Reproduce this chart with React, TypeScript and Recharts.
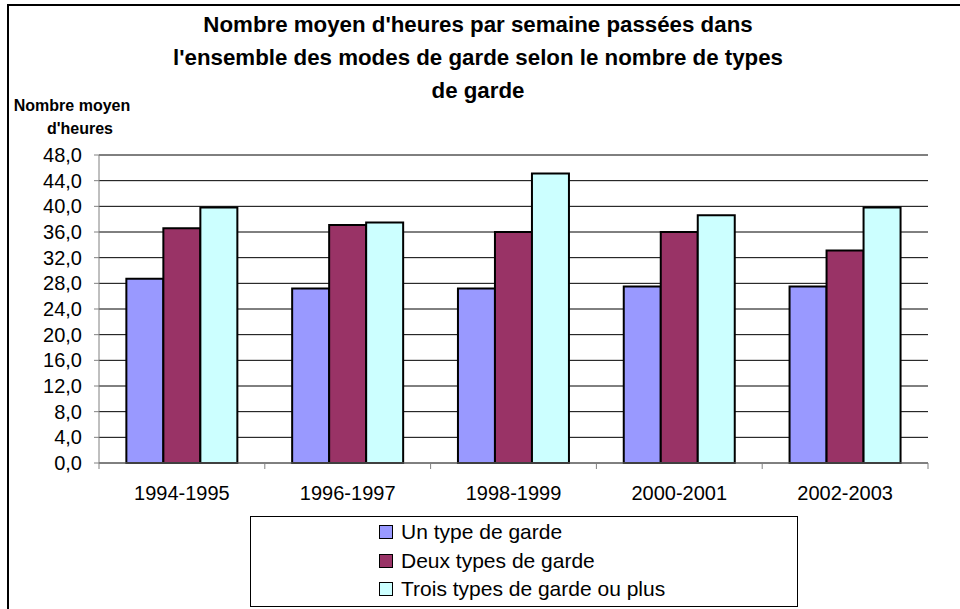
import { BarChart, Bar, XAxis, YAxis, CartesianGrid } from 'recharts';

const periods = ['1994-1995', '1996-1997', '1998-1999', '2000-2001', '2002-2003'];
const unType = [28.7, 27.2, 27.2, 27.5, 27.5];
const deuxTypes = [36.6, 37.1, 36.0, 36.0, 33.1];
const troisTypes = [39.8, 37.5, 45.1, 38.6, 39.8];
const yTicks = [0, 4, 8, 12, 16, 20, 24, 28, 32, 36, 40, 44, 48];

const series = [
  { key: 'un', name: 'Un type de garde', color: '#9999FF' },
  { key: 'deux', name: 'Deux types de garde', color: '#993366' },
  { key: 'trois', name: 'Trois types de garde ou plus', color: '#CCFFFF' },
];

const data = periods.map((p, i) => ({
  period: p,
  un: unType[i],
  deux: deuxTypes[i],
  trois: troisTypes[i],
}));

const W = 960;
const H = 609;
const M = { top: 155, right: 32, left: 39, bottom: 106 };
const Y_W = 60;
const BAND = (W - M.left - M.right - Y_W) / periods.length;
const FONT = 'Arial, "Liberation Sans", sans-serif';

// x labels centred, tick marks at the category boundaries
const XTick = (props: any) => {
  const { x, y, payload, index } = props;
  return (
    <g>
      <text x={x} y={y + 37} textAnchor="middle" fontSize={20} fontFamily={FONT} fill="#000">
        {payload.value}
      </text>
      <line x1={x - BAND / 2} x2={x - BAND / 2} y1={y} y2={y + 6} stroke="#808080" />
      {index === periods.length - 1 ? (
        <line x1={x + BAND / 2} x2={x + BAND / 2} y1={y} y2={y + 6} stroke="#808080" />
      ) : null}
    </g>
  );
};

const LegendBox = () => (
  <div
    style={{
      position: 'absolute',
      left: 250,
      top: 516,
      border: '1px solid #000',
      width: 548,
      height: 91,
      boxSizing: 'border-box',
      fontFamily: FONT,
      fontSize: 21,
      paddingTop: 1,
    }}
  >
    {series.map((s) => (
      <div key={s.key} style={{ display: 'flex', alignItems: 'center', height: 28.5, marginLeft: 128 }}>
        <span
          style={{
            display: 'inline-block',
            width: 12,
            height: 12,
            background: s.color,
            border: '1.5px solid #000',
            marginRight: 8,
          }}
        />
        <span>{s.name}</span>
      </div>
    ))}
  </div>
);

export default function App() {
  return (
    <div style={{ position: 'absolute', left: 0, top: 0, width: W, height: H, background: '#fff', overflow: 'hidden' }}>
      {/* frame of the chart area */}
      <div
        style={{
          position: 'absolute',
          left: 7,
          top: 4,
          width: W,
          height: H,
          borderLeft: '2px solid #000',
          borderTop: '2px solid #000',
        }}
      />
      <div
        style={{
          position: 'absolute',
          left: 0,
          top: 8,
          width: 956,
          textAlign: 'center',
          fontFamily: FONT,
          fontWeight: 'bold',
          fontSize: 22.3,
          lineHeight: '33px',
        }}
      >
        Nombre moyen d'heures par semaine passées dans
        <br />
        l'ensemble des modes de garde selon le nombre de types
        <br />
        de garde
      </div>
      <div
        style={{
          position: 'absolute',
          left: 10,
          top: 94,
          width: 124,
          textAlign: 'center',
          fontFamily: FONT,
          fontWeight: 'bold',
          fontSize: 16,
          lineHeight: '23px',
        }}
      >
        Nombre moyen
        <br />
        <span style={{ marginLeft: 16 }}>d'heures</span>
      </div>
      <BarChart width={W} height={H} data={data} margin={M} barCategoryGap="16.5%" barGap={0}>
        <CartesianGrid vertical={false} stroke="#000" />
        <XAxis
          dataKey="period"
          height={40}
          tickLine={false}
          tickSize={0}
          tickMargin={0}
          stroke="#808080"
          tick={<XTick />}
          interval={0}
        />
        <YAxis
          width={Y_W}
          domain={[0, 48]}
          ticks={yTicks}
          interval={0}
          stroke="#808080"
          tickSize={5}
          tickMargin={12}
          tick={{ fill: '#000', fontSize: 20, fontFamily: FONT }}
          tickFormatter={(v: number) => v.toFixed(1).replace('.', ',')}
        />
        {series.map((s) => (
          <Bar
            key={s.key}
            dataKey={s.key}
            name={s.name}
            fill={s.color}
            stroke="#000"
            strokeWidth={2}
            isAnimationActive={false}
          />
        ))}
      </BarChart>
      <LegendBox />
    </div>
  );
}
